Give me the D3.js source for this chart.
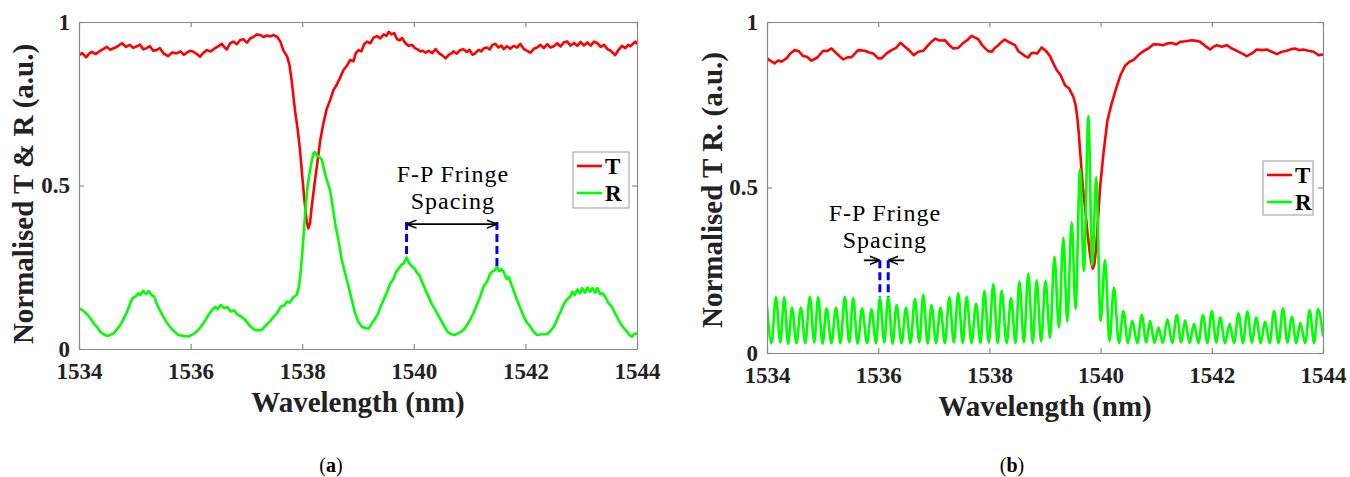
<!DOCTYPE html>
<html>
<head>
<meta charset="utf-8">
<script src="https://cdn.jsdelivr.net/npm/d3@7"></script>
<style>
  html, body { margin: 0; padding: 0; background: #fff; }
  svg { display: block; }
  text { font-family: "Liberation Serif", "Times New Roman", serif; }
</style>
</head>
<body>
<svg id="fig" width="1350" height="477"></svg>
<script>
// ---- Panel (a): transmission T and reflection R ----
const tA_wl = [1534.00,1534.06,1534.13,1534.18,1534.23,1534.30,1534.38,1534.44,1534.50,1534.56,1534.65,1534.71,1534.77,1534.84,1534.91,1534.97,1535.03,1535.09,1535.15,1535.21,1535.27,1535.33,1535.39,1535.45,1535.52,1535.60,1535.67,1535.75,1535.82,1535.88,1535.93,1535.99,1536.05,1536.11,1536.17,1536.23,1536.29,1536.36,1536.44,1536.50,1536.56,1536.61,1536.65,1536.71,1536.77,1536.83,1536.89,1536.95,1537.01,1537.07,1537.13,1537.19,1537.25,1537.31,1537.37,1537.43,1537.49,1537.55,1537.61,1537.66,1537.73,1537.77,1537.81,1537.87,1537.92,1537.96,1538.00,1538.04,1538.08,1538.11,1538.14,1538.17,1538.23,1538.28,1538.32,1538.38,1538.44,1538.50,1538.56,1538.62,1538.68,1538.74,1538.80,1538.86,1538.92,1538.96,1539.01,1539.06,1539.11,1539.16,1539.22,1539.28,1539.34,1539.40,1539.46,1539.51,1539.55,1539.60,1539.65,1539.70,1539.75,1539.79,1539.85,1539.91,1539.97,1540.02,1540.06,1540.12,1540.16,1540.21,1540.27,1540.33,1540.39,1540.45,1540.51,1540.57,1540.63,1540.68,1540.71,1540.77,1540.83,1540.89,1540.95,1541.00,1541.05,1541.10,1541.16,1541.21,1541.26,1541.31,1541.36,1541.41,1541.46,1541.52,1541.57,1541.61,1541.67,1541.73,1541.79,1541.85,1541.91,1541.97,1542.03,1542.09,1542.15,1542.21,1542.27,1542.33,1542.39,1542.45,1542.51,1542.57,1542.63,1542.69,1542.75,1542.81,1542.87,1542.93,1542.99,1543.05,1543.11,1543.17,1543.23,1543.29,1543.35,1543.41,1543.47,1543.53,1543.57,1543.61,1543.67,1543.73,1543.79,1543.84,1543.88,1543.94,1543.97,1544.00];
const tA_val = [0.899,0.905,0.892,0.903,0.909,0.902,0.912,0.918,0.924,0.915,0.922,0.928,0.935,0.924,0.930,0.921,0.925,0.931,0.917,0.920,0.926,0.912,0.914,0.920,0.903,0.896,0.907,0.904,0.910,0.900,0.906,0.912,0.909,0.902,0.894,0.906,0.914,0.910,0.920,0.926,0.933,0.922,0.916,0.935,0.940,0.932,0.945,0.947,0.937,0.950,0.955,0.962,0.960,0.954,0.959,0.956,0.960,0.955,0.940,0.914,0.894,0.870,0.823,0.731,0.670,0.609,0.530,0.455,0.390,0.369,0.385,0.435,0.517,0.580,0.635,0.690,0.735,0.761,0.792,0.808,0.830,0.853,0.866,0.884,0.880,0.905,0.914,0.910,0.932,0.940,0.935,0.952,0.957,0.950,0.962,0.958,0.970,0.962,0.966,0.947,0.944,0.951,0.935,0.927,0.930,0.920,0.917,0.910,0.912,0.906,0.912,0.905,0.917,0.905,0.898,0.889,0.900,0.905,0.910,0.903,0.914,0.917,0.908,0.915,0.900,0.904,0.915,0.910,0.920,0.922,0.916,0.930,0.933,0.922,0.928,0.917,0.926,0.918,0.927,0.922,0.933,0.918,0.912,0.906,0.918,0.922,0.930,0.920,0.932,0.922,0.926,0.935,0.925,0.938,0.940,0.928,0.936,0.927,0.939,0.928,0.937,0.928,0.940,0.935,0.924,0.930,0.917,0.912,0.905,0.899,0.915,0.927,0.920,0.930,0.926,0.935,0.940,0.932];

const rA_wl = [1534.00,1534.07,1534.14,1534.20,1534.26,1534.32,1534.38,1534.44,1534.50,1534.56,1534.62,1534.68,1534.74,1534.80,1534.86,1534.91,1534.96,1535.01,1535.06,1535.10,1535.15,1535.20,1535.25,1535.30,1535.35,1535.39,1535.45,1535.51,1535.57,1535.63,1535.70,1535.78,1535.87,1535.96,1536.04,1536.11,1536.17,1536.23,1536.28,1536.32,1536.38,1536.44,1536.49,1536.54,1536.60,1536.66,1536.72,1536.78,1536.84,1536.90,1536.98,1537.05,1537.13,1537.20,1537.27,1537.33,1537.37,1537.43,1537.49,1537.55,1537.61,1537.67,1537.73,1537.78,1537.84,1537.90,1537.94,1537.97,1538.00,1538.03,1538.06,1538.09,1538.12,1538.16,1538.20,1538.23,1538.26,1538.30,1538.35,1538.39,1538.44,1538.50,1538.56,1538.60,1538.65,1538.71,1538.76,1538.80,1538.86,1538.91,1538.95,1539.01,1539.07,1539.13,1539.19,1539.25,1539.31,1539.36,1539.41,1539.46,1539.52,1539.58,1539.64,1539.68,1539.73,1539.78,1539.82,1539.87,1539.92,1539.97,1540.02,1540.06,1540.10,1540.15,1540.21,1540.27,1540.33,1540.39,1540.45,1540.52,1540.60,1540.67,1540.74,1540.82,1540.89,1540.95,1541.01,1541.07,1541.13,1541.19,1541.25,1541.31,1541.37,1541.42,1541.46,1541.49,1541.53,1541.57,1541.61,1541.66,1541.70,1541.73,1541.79,1541.85,1541.91,1541.97,1542.03,1542.09,1542.15,1542.21,1542.30,1542.39,1542.45,1542.51,1542.57,1542.63,1542.69,1542.75,1542.80,1542.84,1542.88,1542.93,1542.98,1543.02,1543.07,1543.11,1543.16,1543.20,1543.25,1543.29,1543.34,1543.39,1543.43,1543.49,1543.55,1543.62,1543.70,1543.76,1543.82,1543.87,1543.91,1543.95,1544.00];
const rA_val = [0.124,0.118,0.107,0.095,0.079,0.068,0.053,0.045,0.040,0.043,0.048,0.060,0.073,0.092,0.114,0.135,0.155,0.160,0.170,0.165,0.178,0.168,0.177,0.165,0.160,0.140,0.118,0.099,0.082,0.068,0.055,0.043,0.040,0.038,0.045,0.053,0.065,0.079,0.092,0.104,0.118,0.129,0.122,0.135,0.125,0.128,0.115,0.118,0.105,0.100,0.089,0.073,0.060,0.057,0.058,0.068,0.076,0.086,0.099,0.110,0.129,0.132,0.145,0.142,0.158,0.165,0.190,0.230,0.290,0.360,0.430,0.490,0.525,0.565,0.598,0.603,0.592,0.588,0.580,0.550,0.517,0.485,0.420,0.375,0.333,0.272,0.238,0.211,0.170,0.135,0.109,0.082,0.068,0.064,0.063,0.078,0.094,0.108,0.132,0.150,0.175,0.201,0.215,0.235,0.246,0.258,0.262,0.280,0.262,0.252,0.245,0.232,0.226,0.205,0.180,0.158,0.135,0.118,0.099,0.078,0.053,0.045,0.043,0.050,0.058,0.072,0.089,0.110,0.135,0.160,0.191,0.205,0.231,0.238,0.242,0.254,0.238,0.244,0.236,0.215,0.220,0.206,0.178,0.150,0.125,0.099,0.080,0.068,0.052,0.043,0.045,0.046,0.055,0.068,0.092,0.114,0.138,0.152,0.160,0.175,0.165,0.182,0.170,0.186,0.172,0.188,0.175,0.186,0.172,0.186,0.168,0.170,0.160,0.140,0.129,0.105,0.079,0.065,0.053,0.042,0.038,0.046,0.048];

// ---- Panel (b): transmission T ----
const tB_wl = [1534.00,1534.07,1534.14,1534.20,1534.26,1534.35,1534.42,1534.50,1534.57,1534.65,1534.72,1534.80,1534.90,1535.01,1535.08,1535.16,1535.25,1535.37,1535.45,1535.52,1535.64,1535.76,1535.84,1535.91,1536.00,1536.06,1536.15,1536.24,1536.32,1536.40,1536.47,1536.54,1536.64,1536.72,1536.81,1536.90,1536.97,1537.03,1537.10,1537.20,1537.28,1537.35,1537.44,1537.53,1537.60,1537.68,1537.75,1537.80,1537.87,1537.92,1537.98,1538.04,1538.10,1538.16,1538.22,1538.28,1538.34,1538.40,1538.46,1538.52,1538.58,1538.64,1538.70,1538.75,1538.79,1538.86,1538.94,1539.02,1539.09,1539.15,1539.21,1539.28,1539.36,1539.43,1539.51,1539.55,1539.58,1539.61,1539.63,1539.68,1539.72,1539.76,1539.80,1539.83,1539.86,1539.89,1539.92,1539.96,1539.99,1540.05,1540.12,1540.20,1540.29,1540.36,1540.44,1540.52,1540.59,1540.68,1540.77,1540.86,1540.95,1541.05,1541.13,1541.20,1541.28,1541.36,1541.43,1541.53,1541.64,1541.72,1541.79,1541.88,1541.97,1542.03,1542.09,1542.18,1542.27,1542.36,1542.45,1542.54,1542.63,1542.72,1542.81,1542.90,1542.99,1543.08,1543.17,1543.26,1543.35,1543.43,1543.50,1543.57,1543.65,1543.74,1543.83,1543.92,1544.00];
const tB_val = [0.890,0.882,0.875,0.884,0.880,0.890,0.905,0.915,0.912,0.897,0.895,0.883,0.892,0.913,0.912,0.920,0.905,0.887,0.893,0.894,0.915,0.913,0.908,0.905,0.890,0.890,0.905,0.915,0.922,0.937,0.927,0.917,0.900,0.910,0.913,0.930,0.942,0.950,0.944,0.945,0.930,0.920,0.922,0.937,0.945,0.958,0.952,0.948,0.930,0.921,0.912,0.910,0.922,0.930,0.940,0.947,0.940,0.935,0.930,0.912,0.905,0.897,0.893,0.905,0.907,0.905,0.923,0.912,0.897,0.875,0.855,0.840,0.809,0.800,0.774,0.750,0.713,0.660,0.612,0.501,0.440,0.370,0.310,0.275,0.255,0.270,0.320,0.420,0.500,0.600,0.700,0.755,0.805,0.840,0.868,0.880,0.885,0.900,0.912,0.920,0.933,0.932,0.930,0.935,0.937,0.932,0.940,0.942,0.945,0.943,0.940,0.928,0.917,0.925,0.930,0.925,0.930,0.920,0.913,0.905,0.897,0.905,0.917,0.915,0.917,0.910,0.903,0.910,0.913,0.918,0.920,0.915,0.917,0.913,0.910,0.900,0.902];

// ---- Panel (b): reflection R, fringe maxima and minima ----
const rB_peakWl = [1534.16,1534.31,1534.45,1534.61,1534.77,1534.92,1535.07,1535.24,1535.40,1535.55,1535.71,1535.88,1536.03,1536.18,1536.33,1536.50,1536.66,1536.81,1536.96,1537.12,1537.28,1537.44,1537.59,1537.76,1537.91,1538.07,1538.22,1538.39,1538.54,1538.70,1538.85,1539.01,1539.17,1539.33,1539.48,1539.63,1539.78,1539.92,1540.08,1540.24,1540.41,1540.57,1540.74,1540.89,1541.04,1541.20,1541.37,1541.52,1541.68,1541.84,1542.00,1542.15,1542.32,1542.48,1542.64,1542.80,1542.96,1543.12,1543.28,1543.44,1543.59,1543.76,1543.91];
const rB_peakVal = [0.168,0.168,0.137,0.137,0.170,0.168,0.135,0.137,0.170,0.166,0.135,0.132,0.166,0.170,0.145,0.137,0.163,0.176,0.145,0.137,0.168,0.180,0.170,0.149,0.188,0.208,0.188,0.166,0.216,0.240,0.220,0.218,0.291,0.348,0.395,0.555,0.716,0.531,0.281,0.198,0.127,0.097,0.115,0.097,0.077,0.102,0.115,0.099,0.088,0.115,0.127,0.107,0.088,0.119,0.125,0.107,0.095,0.127,0.135,0.109,0.091,0.129,0.133];
const rB_troughWl = [1534.00,1534.08,1534.24,1534.38,1534.53,1534.69,1534.85,1535.00,1535.16,1535.32,1535.48,1535.63,1535.80,1535.96,1536.11,1536.26,1536.42,1536.58,1536.74,1536.89,1537.04,1537.20,1537.36,1537.52,1537.68,1537.84,1537.99,1538.15,1538.31,1538.47,1538.62,1538.78,1538.93,1539.09,1539.25,1539.40,1539.55,1539.70,1539.85,1540.00,1540.16,1540.33,1540.49,1540.66,1540.82,1540.97,1541.12,1541.29,1541.45,1541.60,1541.76,1541.92,1542.08,1542.24,1542.40,1542.56,1542.72,1542.88,1543.04,1543.20,1543.36,1543.52,1543.68,1543.84,1544.00];
const rB_troughVal = [0.142,0.030,0.032,0.028,0.030,0.030,0.032,0.028,0.030,0.030,0.032,0.028,0.030,0.030,0.032,0.028,0.030,0.030,0.032,0.028,0.030,0.030,0.032,0.030,0.030,0.030,0.032,0.030,0.030,0.030,0.032,0.030,0.035,0.046,0.077,0.095,0.133,0.248,0.265,0.097,0.036,0.030,0.030,0.030,0.032,0.030,0.030,0.030,0.032,0.030,0.030,0.030,0.032,0.030,0.030,0.030,0.032,0.030,0.030,0.030,0.032,0.030,0.030,0.030,0.050];

// ---- axes, labels, annotations ----
const xTicks = [1534, 1536, 1538, 1540, 1542, 1544];
const xTickLabels = ["1534", "1536", "1538", "1540", "1542", "1544"];
const yTicks = [0, 0.5, 1];
const yTickLabels = ["0", "0.5", "1"];
const xTitle = "Wavelength (nm)";
const yTitleA = "Normalised T & R (a.u.)";
const yTitleB = "Normalised T R. (a.u.)";
const legendNames = ["T", "R"];
const fringeText = ["F-P Fringe", "Spacing"];
// fringe marker positions [wavelength, peak value] and marker top level
const fringeA = [[1539.87, 0.280], [1541.49, 0.254]];
const fringeATop = 0.388;
const fringeB = [[1536.03, 0.170], [1536.18, 0.170]];
const fringeBTop = 0.28;

const SERIF = '"Liberation Serif", "Times New Roman", serif';
const RED = "#ff0000", GREEN = "#00ff00", BLUE = "#0000ff";
const AXIS = "#8a8a8a", INK = "#222";

const svg = d3.select("#fig");
const defs = svg.append("defs");
defs.append("marker").attr("id", "ah").attr("viewBox", "0 0 10 10")
  .attr("refX", 9).attr("refY", 5).attr("markerWidth", 10).attr("markerHeight", 10)
  .attr("markerUnits", "userSpaceOnUse").attr("orient", "auto-start-reverse")
  .append("path").attr("d", "M0,1 L10,5 L0,9").attr("fill", "none")
  .attr("stroke", "#000").attr("stroke-width", 1.6);

function zip(a, b) { return a.map((v, i) => [v, b[i]]); }

function panel(cfg) {
  const x = d3.scaleLinear().domain([1534, 1544]).range([cfg.left, cfg.right]);
  const y = d3.scaleLinear().domain([0, 1]).range([cfg.bottom, cfg.top]);
  const g = svg.append("g").attr("font-family", SERIF);
  const clipId = "clip" + cfg.id;
  defs.append("clipPath").attr("id", clipId).append("rect")
    .attr("x", cfg.left).attr("y", cfg.top - 2)
    .attr("width", cfg.right - cfg.left).attr("height", cfg.bottom - cfg.top + 2);

  const plot = g.append("g").attr("clip-path", `url(#${clipId})`);
  cfg.series.forEach(s => {
    plot.append("path").datum(s.data)
      .attr("fill", "none").attr("stroke", s.color).attr("stroke-width", 2.6)
      .attr("stroke-linejoin", "round")
      .attr("d", d3.line().x(d => x(d[0])).y(d => y(d[1])).curve(s.curve || d3.curveLinear));
  });

  // box with inward ticks on all four sides
  const styleAxis = sel => {
    sel.attr("font-family", SERIF);
    sel.select(".domain").attr("stroke", AXIS).attr("stroke-width", 1.2);
    sel.selectAll(".tick line").attr("stroke", AXIS).attr("stroke-width", 1.2);
    sel.selectAll(".tick text").attr("fill", INK)
      .style("font-family", SERIF).style("font-weight", "bold").style("font-size", "23px");
  };
  g.append("g").attr("transform", `translate(0,${cfg.bottom})`)
    .call(d3.axisBottom(x).tickValues(xTicks).tickFormat((d, i) => xTickLabels[i])
      .tickSizeInner(-5).tickSizeOuter(0).tickPadding(14))
    .call(styleAxis);
  g.append("g").attr("transform", `translate(0,${cfg.top})`)
    .call(d3.axisTop(x).tickValues(xTicks).tickFormat("").tickSizeInner(-5).tickSizeOuter(0))
    .call(styleAxis);
  g.append("g").attr("transform", `translate(${cfg.left},0)`)
    .call(d3.axisLeft(y).tickValues(yTicks).tickFormat((d, i) => yTickLabels[i])
      .tickSizeInner(-5).tickSizeOuter(0).tickPadding(9))
    .call(styleAxis);
  g.append("g").attr("transform", `translate(${cfg.right},0)`)
    .call(d3.axisRight(y).tickValues(yTicks).tickFormat("").tickSizeInner(-5).tickSizeOuter(0))
    .call(styleAxis);

  // axis titles
  g.append("text").attr("x", (cfg.left + cfg.right) / 2).attr("y", cfg.bottom + 63)
    .attr("text-anchor", "middle").attr("font-weight", "bold").attr("font-size", 29)
    .attr("fill", INK).text(xTitle);
  g.append("text")
    .attr("transform", `translate(${cfg.yTitleX},${cfg.yTitleY}) rotate(-90)`)
    .attr("text-anchor", "middle").attr("font-weight", "bold").attr("font-size", 29)
    .attr("fill", INK).text(cfg.yTitle);

  // legend
  const lg = g.append("g").attr("transform", `translate(${cfg.legend[0]},${cfg.legend[1]})`);
  lg.append("rect").attr("x", 0).attr("y", 0).attr("width", cfg.legend[2]).attr("height", cfg.legend[3])
    .attr("fill", "#fff").attr("stroke", "#9a9a9a").attr("stroke-width", 1);
  [RED, GREEN].forEach((c, i) => {
    const yy = 14 + i * 27;
    lg.append("line").attr("x1", 4).attr("x2", 29).attr("y1", yy).attr("y2", yy)
      .attr("stroke", c).attr("stroke-width", 2.6);
    lg.append("text").attr("x", 32).attr("y", yy + 8).attr("font-weight", "bold")
      .attr("font-size", 23).attr("fill", "#000").text(legendNames[i]);
  });

  // caption
  const cap = g.append("text").attr("x", cfg.capX).attr("y", 472).attr("text-anchor", "middle")
    .attr("font-size", 20).attr("fill", "#000");
  cap.append("tspan").text("(");
  cap.append("tspan").attr("font-weight", "bold").text(cfg.id);
  cap.append("tspan").text(")");

  return { g, x, y };
}

// panel (a)
const A = panel({
  id: "a", left: 79, right: 637, top: 22, bottom: 349,
  yTitle: yTitleA, yTitleX: 33, yTitleY: 194, capX: 331,
  legend: [573, 152, 56, 56],
  series: [
    { data: zip(tA_wl, tA_val), color: RED },
    { data: zip(rA_wl, rA_val), color: GREEN }
  ]
});
// panel (b)
const rB = zip(rB_peakWl, rB_peakVal).concat(zip(rB_troughWl, rB_troughVal))
  .sort((p, q) => p[0] - q[0]);
const B = panel({
  id: "b", left: 767, right: 1323, top: 22, bottom: 353,
  yTitle: yTitleB, yTitleX: 722, yTitleY: 190, capX: 1012,
  legend: [1263, 161, 50, 54],
  series: [
    { data: zip(tB_wl, tB_val), color: RED },
    { data: rB, color: GREEN, curve: d3.curveMonotoneX }
  ]
});

// fringe annotation helpers
function dashed(P, wl, from, to) {
  P.g.append("line").attr("x1", P.x(wl)).attr("x2", P.x(wl))
    .attr("y1", P.y(to)).attr("y2", P.y(from))
    .attr("stroke", BLUE).attr("stroke-width", 3).attr("stroke-dasharray", "8,4");
}
function label(P, cx, baseline) {
  fringeText.forEach((t, i) => {
    P.g.append("text").attr("x", cx).attr("y", baseline + i * 27).attr("text-anchor", "middle")
      .attr("font-size", 24).attr("letter-spacing", 1).attr("fill", "#000").text(t);
  });
}

// panel (a): dashed markers with a double arrow between them
fringeA.forEach(([wl, v]) => dashed(A, wl, v, fringeATop));
A.g.append("line")
  .attr("x1", A.x(fringeA[0][0]) + 1).attr("x2", A.x(fringeA[1][0]) - 1)
  .attr("y1", A.y(fringeATop) + 2).attr("y2", A.y(fringeATop) + 2)
  .attr("stroke", "#000").attr("stroke-width", 1.8)
  .attr("marker-start", "url(#ah)").attr("marker-end", "url(#ah)");
label(A, A.x(1540.7), 182);

// panel (b): dashed markers with inward-pointing arrows
fringeB.forEach(([wl, v]) => dashed(B, wl, v, fringeBTop));
B.g.append("line")
  .attr("x1", B.x(fringeB[0][0]) - 16).attr("x2", B.x(fringeB[0][0]) - 1)
  .attr("y1", B.y(fringeBTop)).attr("y2", B.y(fringeBTop))
  .attr("stroke", "#000").attr("stroke-width", 1.8).attr("marker-end", "url(#ah)");
B.g.append("line")
  .attr("x1", B.x(fringeB[1][0]) + 16).attr("x2", B.x(fringeB[1][0]) + 1)
  .attr("y1", B.y(fringeBTop)).attr("y2", B.y(fringeBTop))
  .attr("stroke", "#000").attr("stroke-width", 1.8).attr("marker-end", "url(#ah)");
label(B, B.x(1536.12), 221);
</script>
</body>
</html>
